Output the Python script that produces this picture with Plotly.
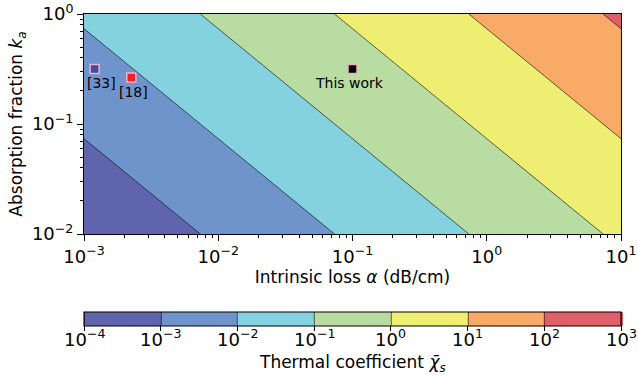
import numpy as np
import plotly.graph_objects as go

# ---- data ----
alpha_grid = [1e-3, 1e-2, 1e-1, 1e0, 1e1]          # intrinsic loss (dB/cm)
ka_grid = [1e-2, 1e-1, 1e0]                         # absorption fraction
chi_scale = 13.6
levels = [-4, -3, -2, -1, 0, 1, 2, 3]               # log10 contour levels
band_colors = ["#6064ad", "#6f94cc", "#84d2e0", "#b8dca2",
               "#eeee72", "#f8aa66", "#e0606a"]

point_names = ["[33]", "[18]", "This work"]
point_alpha = [1.2e-3, 2.25e-3, 0.1]
point_ka = [0.316, 0.264, 0.316]
point_fill = ["#3a4fa0", "#f0202a", "#000000"]

a = np.array(alpha_grid)
k = np.array(ka_grid)
Z = np.log10(chi_scale * np.outer(k, a))

# stepped colorscale
n = len(band_colors)
cs = []
for i, c in enumerate(band_colors):
    cs.append([i / n, c])
    cs.append([(i + 1) / n, c])

def sup(v):
    s = str(v).replace("-", "\u2212")
    return "10<sup>" + s + "</sup>"

FONT = "DejaVu Sans"
TICK = 18
W, H = 638, 377
PLOT_TOP, PLOT_BOT = 14, 234
def py(pix):
    return (PLOT_BOT - pix) / (PLOT_BOT - PLOT_TOP)

fig = go.Figure()
fig.add_trace(go.Contour(
    x=alpha_grid, y=ka_grid, z=Z,
    zmin=levels[0], zmax=levels[-1], autocontour=False,
    contours=dict(start=levels[0], end=levels[-1], size=1, coloring="fill", showlines=True),
    line=dict(color="black", width=0.6),
    colorscale=cs,
    colorbar=dict(
        orientation="h", x=0.5, xanchor="center",
        yref="container", y=1 - 312 / H, yanchor="top",
        len=1, lenmode="fraction", thickness=14, xpad=0, ypad=0,
        outlinecolor="black", outlinewidth=1,
        tickvals=levels, showticklabels=False,
        ticks="outside", ticklen=5, tickcolor="black",
    ),
    hoverinfo="skip",
))

fig.add_trace(go.Scatter(
    x=point_alpha, y=point_ka, mode="markers",
    marker=dict(symbol="square", size=9, color=point_fill,
                line=dict(color="#f4b0c8", width=1.5)),
    showlegend=False,
))

text_shift = [(7, -14), (2, -14), (-3, -14)]
for name, xa, yk, (dx, dy) in zip(point_names, point_alpha, point_ka, text_shift):
    fig.add_annotation(x=np.log10(xa), y=np.log10(yk), text=name, showarrow=False,
                       xshift=dx, yshift=dy, font=dict(family=FONT, size=14, color="black"))

# colorbar tick labels (bar spans the plot width)
for v in levels:
    fig.add_annotation(xref="paper", yref="paper",
                       x=(v - levels[0]) / (levels[-1] - levels[0]), y=py(338),
                       xanchor="center", yanchor="middle", text=sup(v), showarrow=False,
                       font=dict(family=FONT, size=TICK, color="black"))

# colorbar title
fig.add_annotation(xref="paper", yref="paper", x=0.5, y=py(363), yanchor="middle",
                   text="Thermal coefficient <i>\u03c7\u0304</i><sub><i>s</i></sub>", showarrow=False,
                   font=dict(family=FONT, size=17, color="black"))

xmaj = [-3, -2, -1, 0, 1]
ymaj = [-2, -1, 0]
xminor = [m * 10.0 ** d for d in range(-3, 1) for m in range(2, 10)]
yminor = [m * 10.0 ** d for d in range(-2, 0) for m in range(2, 10)]

axis_common = dict(type="log", showgrid=False, zeroline=False, showline=True, mirror=True,
                   linecolor="black", linewidth=1, ticks="outside", ticklen=6, tickwidth=1,
                   tickcolor="black", automargin=False,
                   tickfont=dict(family=FONT, size=TICK, color="black"))
fig.update_xaxes(range=[-3, 1], tickvals=[10.0 ** v for v in xmaj], ticktext=[sup(v) for v in xmaj],
                 minor=dict(tickvals=xminor, ticks="outside", ticklen=3, tickcolor="black"),
                 title=dict(text="Intrinsic loss <i>\u03b1</i> (dB/cm)", standoff=4,
                            font=dict(family=FONT, size=17, color="black")),
                 **axis_common)
fig.update_yaxes(range=[-2, 0], tickvals=[10.0 ** v for v in ymaj], ticktext=[sup(v) for v in ymaj],
                 minor=dict(tickvals=yminor, ticks="outside", ticklen=3, tickcolor="black"),
                 title=dict(text="Absorption fraction <i>k</i><sub><i>a</i></sub>", standoff=4,
                            font=dict(family=FONT, size=17, color="black")),
                 **axis_common)

fig.update_layout(
    width=W, height=H,
    margin=dict(l=83.5, r=16.5, t=PLOT_TOP, b=H - PLOT_BOT),
    paper_bgcolor="white", plot_bgcolor="white",
    showlegend=False,
)
fig.write_html("out.html")
